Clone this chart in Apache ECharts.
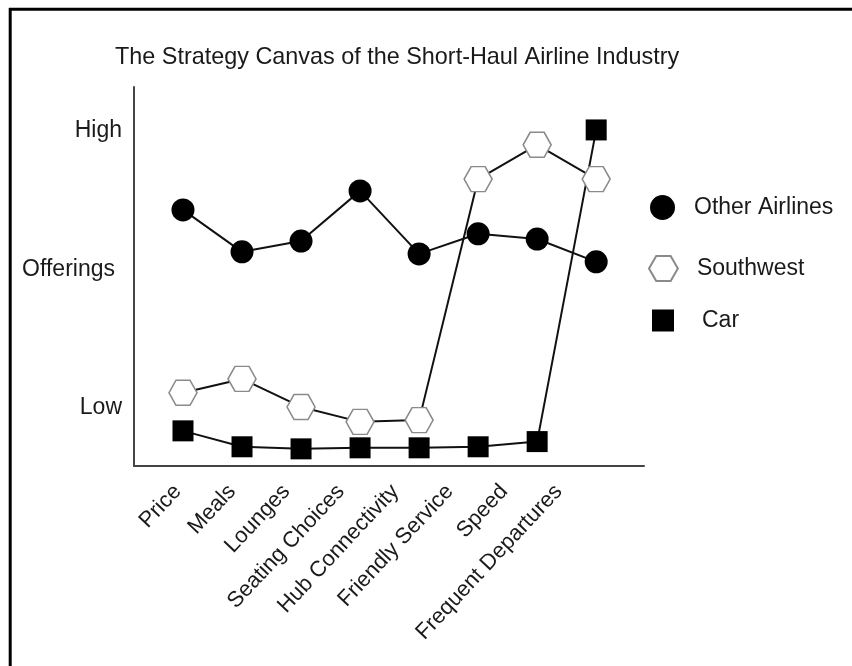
<!DOCTYPE html>
<html><head><meta charset="utf-8">
<script src="https://cdn.jsdelivr.net/npm/echarts@6/dist/echarts.min.js"></script>
<style>html,body{margin:0;padding:0;background:#fff}#c{width:852px;height:666px}</style>
</head><body><div id="c"></div>
<script>
const titleText = 'The Strategy Canvas of the Short-Haul Airline Industry';
const categories = ['Price', 'Meals', 'Lounges', 'Seating Choices', 'Hub Connectivity', 'Friendly Service', 'Speed', 'Frequent Departures'];
const otherAirlines = [7.72, 6.51, 6.82, 8.27, 6.45, 7.03, 6.88, 6.22];
const southwest = [2.44, 2.84, 2.03, 1.60, 1.65, 8.61, 9.60, 8.61];
const car = [1.34, 0.88, 0.82, 0.85, 0.85, 0.88, 1.03, 10.03];
const yTickValues = [2, 6, 10];
const yTickLabels = ['Low', 'Offerings', 'High'];
const seriesNames = ['Other Airlines', 'Southwest', 'Car'];

const FONT = '"Liberation Sans", Arial, sans-serif';
const TXT = '#1a1a1a';
const HEX = 'path://M-1,0 L-0.5,-0.866 L0.5,-0.866 L1,0 L0.5,0.866 L-0.5,0.866 Z';
const idx = categories.map((c, i) => i);
const pts = arr => arr.map((v, i) => [i, v]);

const chart = echarts.init(document.getElementById('c'), null, {renderer: 'canvas'});
chart.setOption({
  animation: false,
  backgroundColor: '#fff',
  title: {
    text: titleText, left: 110, top: 41,
    textStyle: {fontFamily: FONT, fontSize: 23.4, fontWeight: 'normal', color: TXT}
  },
  graphic: [
    {type: 'line', shape: {x1: 9, y1: 9.2, x2: 852, y2: 9.2}, style: {stroke: '#000', lineWidth: 3}},
    {type: 'line', shape: {x1: 10.2, y1: 8, x2: 10.2, y2: 666}, style: {stroke: '#000', lineWidth: 3}}
  ],
  legend: [
    {data: [{name: seriesNames[0], icon: 'circle'}], left: 650, top: 195, padding: 0, itemWidth: 25, itemHeight: 25,
     textStyle: {fontFamily: FONT, fontSize: 23, color: TXT, padding: [0, 0, 0, 14]}},
    {data: [{name: seriesNames[1], icon: HEX}], left: 648, top: 255, padding: 0, itemWidth: 29, itemHeight: 25,
     textStyle: {fontFamily: FONT, fontSize: 23, color: TXT, padding: [0, 0, 0, 14]}},
    {data: [{name: seriesNames[2], icon: 'rect'}], left: 652, top: 309, padding: 0, itemWidth: 22, itemHeight: 22,
     textStyle: {fontFamily: FONT, fontSize: 23, color: TXT, padding: [0, 0, 0, 23]}}
  ],
  grid: {left: 134, top: 87, right: 208, bottom: 200},
  xAxis: [
    {type: 'value', min: -0.83, max: 7.81, position: 'bottom',
     axisLine: {show: true, onZero: false, lineStyle: {color: '#444', width: 2}},
     axisTick: {show: false}, splitLine: {show: false}, axisLabel: {show: false}},
    {type: 'value', min: -0.80, max: 8.57, position: 'bottom', offset: 0,
     axisLine: {show: false}, axisTick: {show: false}, splitLine: {show: false},
     axisLabel: {show: true, customValues: idx, rotate: 47, margin: 22,
       fontFamily: FONT, fontSize: 22, color: TXT,
       formatter: v => categories[Math.round(v)]}}
  ],
  yAxis: {
    type: 'value', min: 0.325, max: 11.27,
    axisLine: {show: true, onZero: false, lineStyle: {color: '#444', width: 2}},
    axisTick: {show: false}, splitLine: {show: false},
    axisLabel: {show: true, customValues: yTickValues, margin: 12,
      fontFamily: FONT, fontSize: 23, color: TXT,
      formatter: v => {
        const t = yTickLabels[yTickValues.indexOf(v)];
        return t === 'Offerings' ? '{o|' + t + '}' : t;
      },
      rich: {o: {fontFamily: FONT, fontSize: 23, color: TXT, padding: [0, 7, 0, 0]}}}
  },
  series: [
    {name: seriesNames[0], type: 'line', xAxisIndex: 0, data: pts(otherAirlines),
     symbol: 'circle', symbolSize: 23, showAllSymbol: true,
     lineStyle: {color: '#111', width: 2}, itemStyle: {color: '#000'}},
    {name: seriesNames[1], type: 'line', xAxisIndex: 0, data: pts(southwest),
     symbol: HEX, symbolSize: [28, 25], showAllSymbol: true,
     lineStyle: {color: '#111', width: 2}, itemStyle: {color: '#fff', borderColor: '#8a8a8a', borderWidth: 1.5}},
    {name: seriesNames[2], type: 'line', xAxisIndex: 0, data: pts(car),
     symbol: 'rect', symbolSize: 21, showAllSymbol: true,
     lineStyle: {color: '#111', width: 2}, itemStyle: {color: '#000'}}
  ]
});
</script></body></html>
